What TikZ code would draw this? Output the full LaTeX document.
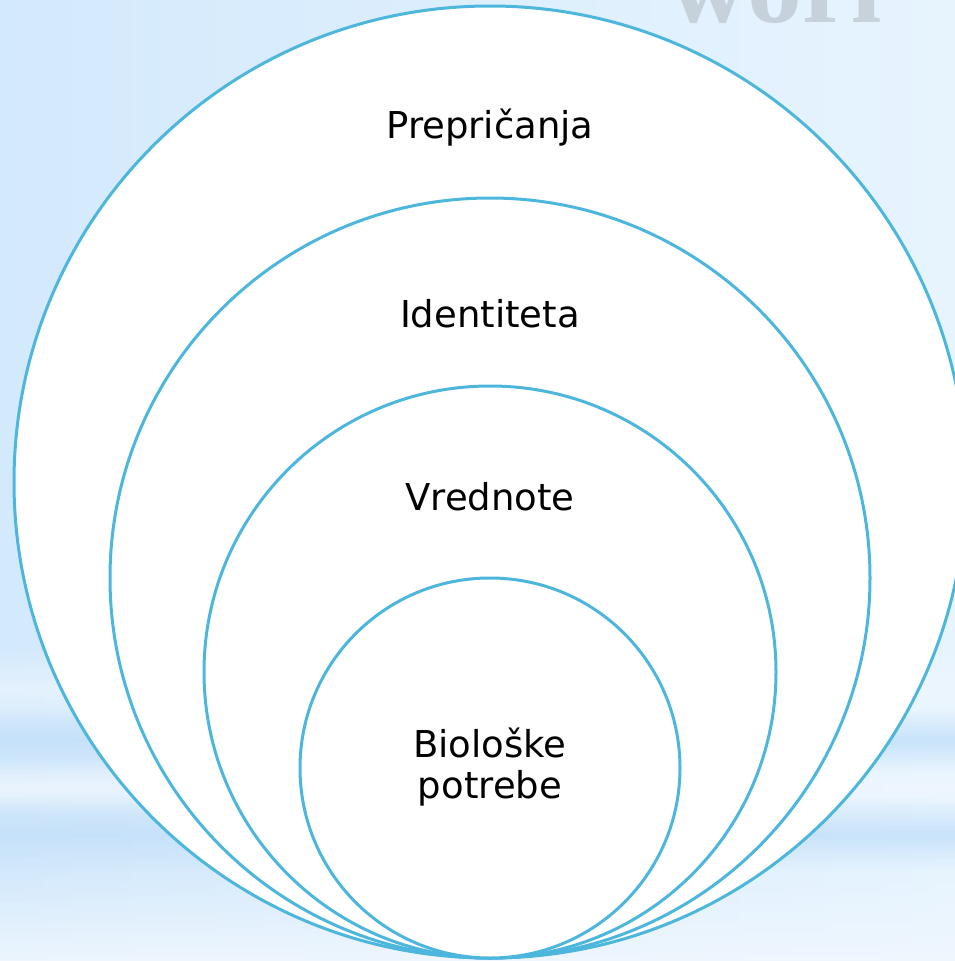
\documentclass[tikz,border=0pt]{standalone}
\usepackage{fontspec}
\setmainfont{DejaVu Sans}
\newfontfamily\wmfont{Liberation Serif}
\definecolor{ring}{HTML}{4DB6DD}
\definecolor{bgL}{HTML}{D3E9FC}
\definecolor{bgR}{HTML}{E7F4FE}
\definecolor{band}{HTML}{C2DFF9}
\definecolor{pale}{HTML}{F0F7FE}
\definecolor{wm}{HTML}{B4BCC4}
\tikzset{
  ringc/.style={circle, draw=ring, line width=3pt, fill=white, inner sep=0pt},
  lbl/.style={font=\fontsize{37}{42}\selectfont, text=black, anchor=base, inner sep=0pt}
}
\newcommand{\softband}[4]{% colour, centre, half-height, peak opacity
  \foreach \k in {-10,...,10}{
    \pgfmathsetmacro{\op}{#4*(1-abs(\k)/10.5)}
    \fill[#1, fill opacity=\op] (0,{#2+\k*#3/10-#3/20}) rectangle (955,{#2+\k*#3/10+#3/20});
  }}
\begin{document}
\begin{tikzpicture}[x=1pt,y=-1pt]
\useasboundingbox (0,0) rectangle (955,961);
\begin{scope}
\clip (0,0) rectangle (955,961);
\shade[left color=bgL, right color=bgR] (0,0) rectangle (955,961);
\softband{pale}{690}{40}{0.6}
\softband{band}{740}{30}{0.8}
\softband{pale}{788}{28}{0.8}
\softband{band}{835}{35}{0.8}
\foreach \k in {0,...,20}{
  \pgfmathsetmacro{\op}{0.9*\k/20}
  \fill[pale, fill opacity=\op] (0,{870+\k*4.5}) rectangle (955,{874.5+\k*4.5});
}
\fill[pale, fill opacity=0.9] (0,960) rectangle (955,961);
\node[font=\wmfont\bfseries\fontsize{110}{110}\selectfont, text=wm, anchor=base west, inner sep=0pt, opacity=0.6] (wmark) at (668,23) {worl};
\node[ringc, minimum size=952] (c1) at (490,482) {};
\node[ringc, minimum size=760] (c2) at (490,578) {};
\node[ringc, minimum size=572] (c3) at (490,672) {};
\node[ringc, minimum size=380] (c4) at (490,768) {};
\end{scope}
\node[lbl] (t1) at (490,138) {Prepričanja};
\node[lbl] (t2) at (490,327) {Identiteta};
\node[lbl] (t3) at (490,510) {Vrednote};
\node[lbl] (t4a) at (490,757) {Biološke};
\node[lbl] (t4b) at (490,798) {potrebe};
\end{tikzpicture}
\end{document}
